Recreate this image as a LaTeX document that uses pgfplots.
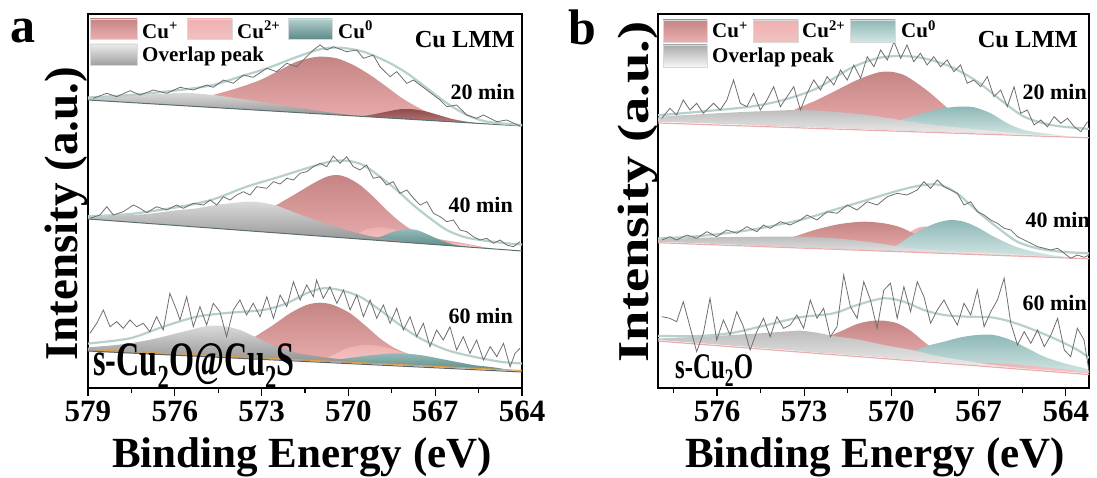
\documentclass[border=0pt]{standalone}
\usepackage{pgfplots}
\pgfplotsset{compat=1.18}
\usepackage{fontspec}
\setmainfont{Liberation Serif}
\newcommand{\fs}[1]{\fontsize{#1}{#1}\selectfont\bfseries}
\definecolor{cupT}{HTML}{C58585}
\definecolor{cupB}{HTML}{EBAEAE}
\definecolor{cutT}{HTML}{EFB1B1}
\definecolor{cutB}{HTML}{F6C9C9}
\definecolor{tealaT}{HTML}{93BAB8}
\definecolor{tealaB}{HTML}{5E8B89}
\definecolor{tealbT}{HTML}{8DB8B6}
\definecolor{tealbB}{HTML}{D3E6E4}
\definecolor{grayaT}{HTML}{DADADA}
\definecolor{grayaB}{HTML}{8F8F8F}
\definecolor{graybT}{HTML}{BDBDBD}
\definecolor{graybB}{HTML}{EDEDED}
\definecolor{darkT}{HTML}{8E4B4B}
\definecolor{darkB}{HTML}{B77C7C}
\definecolor{envc}{HTML}{B7D0CE}
\definecolor{rawc}{HTML}{6E6E6E}
\pgfplotsset{
  xps/.style={scale only axis, height=374pt, ymin=0, ymax=374, ytick=\empty, x dir=reverse,
    axis line style={line width=1.4pt}, tick align=outside, xtick pos=bottom,
    major tick length=8pt, minor tick length=5pt,
    every tick/.style={black, line width=1.2pt},
    xticklabel style={font=\fs{31}, inner sep=1pt, yshift=-4pt}},
  cup/.style={smooth, draw=none, top color=cupT, bottom color=cupB},
  cut/.style={smooth, draw=none, top color=cutT, bottom color=cutB},
  teala/.style={smooth, draw=none, top color=tealaT, bottom color=tealaB},
  tealb/.style={smooth, draw=none, top color=tealbT, bottom color=tealbB},
  graya/.style={smooth, draw=none, top color=grayaT, bottom color=grayaB},
  grayb/.style={smooth, draw=none, top color=graybT, bottom color=graybB},
  darkp/.style={smooth, draw=none, top color=darkT, bottom color=darkB},
  env/.style={smooth, envc, line width=2.2pt},
  raw/.style={rawc, line width=0.8pt},
}
\begin{document}
\begin{tikzpicture}[x=1pt,y=1pt]
\path[use as bounding box] (0,0) rectangle (1097,477);
% ---------------- panel a ----------------
\begin{axis}[xps, at={(88pt,89pt)}, anchor=south west, width=434pt,
  xmin=564, xmax=579, xtick={564,567,570,573,576,579},
  xticklabels={564,567,570,573,576,579},
  minor xtick={565.5,568.5,571.5,574.5,577.5}]
% 20 min
\addplot[cup] coordinates {(577,284.5) (576,285.5) (575.3,287.5) (574.67,293) (573.86,299.7) (573.05,308) (572.36,318) (571.79,326.3) (571.21,330.7) (570.87,331.3) (570.40,329.7) (569.83,323) (569.25,313) (568.68,301.3) (568.22,291.3) (567.75,283) (567.29,276.3) (566.83,271.3) (566.37,267.3) (565.68,265.2) (565,263.7)};
\addplot[darkp] coordinates {(569.6,271.7) (569.25,273) (568.68,276.3) (568.22,278.7) (567.75,278.7) (567.29,276.3) (566.83,272.5) (566.37,268.8) (565.9,266.3) (565.5,264.6)};
\addplot[graya] coordinates {(579.5,288.9) (579,290.5) (578,292) (576.96,293.5) (575.9,295) (575.47,295) (574.68,293) (573.8,289.5) (572.95,286) (572.1,282) (571.22,278) (570.5,275) (569.8,272.5) (569,270.7)};
\addplot[color={rgb,255:red,90;green,112;blue,112}, line width=1pt] coordinates {(579,288) (564,262)};
\addplot[env] coordinates {(579,290.5) (577.55,293) (575.82,298) (574.68,303) (573.75,311.3) (572.81,319.7) (571.91,329.7) (570.98,338.7) (570.29,340.3) (569.49,336.3) (568.66,326.3) (567.97,314.7) (567.28,299.7) (566.59,284.7) (565.90,273) (565.21,266.3) (564.07,263) (564,262.8)};
\addplot[raw] coordinates {(578.82,289.7) (578.35,294.7) (578.01,291.3) (577.55,297.3) (577.20,293) (576.74,298) (576.28,294.7) (575.82,300.7) (575.36,298) (574.90,303) (574.67,300.7) (574.32,308) (573.98,304.7) (573.63,313) (573.29,310.7) (572.82,319.7) (572.48,316.3) (572.13,324.7) (571.79,321.3) (571.44,331.3) (571.21,338) (570.98,343) (570.75,338) (570.52,341.3) (570.06,336.3) (569.71,338) (569.48,329.7) (569.14,333) (568.91,321.3) (568.56,311.3) (568.33,316.3) (567.98,304.7) (567.75,308) (567.29,298) (566.83,288) (566.60,281.3) (566.26,283) (565.91,273) (565.57,269.7) (565.33,273) (564.87,266.3) (564.53,268) (564.07,262)};
% 40 min
\addplot[cup] coordinates {(575.5,161.5) (574.5,162.8) (573.5,168) (573,174) (572.48,183) (571.79,194.7) (571.21,204.7) (570.75,211.3) (570.40,213) (570.06,210.7) (569.60,203) (569.14,191.3) (568.68,178) (568.22,166.3) (567.76,157.3) (567.29,152) (566.83,148.7) (566.26,146) (565.6,142.5) (565,139.1)};
\addplot[cut] coordinates {(570.5,150.9) (569.83,152.3) (569.37,158.7) (568.91,160.7) (568.45,158.7) (567.98,153.5) (567.52,149.5) (567,146.5) (566.4,144.5) (565.8,143) (565.2,139.6)};
\addplot[teala] coordinates {(569.6,148.9) (568.91,151.3) (568.45,156.3) (567.98,158.7) (567.64,158) (567.29,154) (566.83,148) (566.37,143.5) (565.9,141.1)};
\addplot[graya] coordinates {(579.5,170.1) (578.93,171) (577.9,172.5) (576.97,174) (576,177.5) (575.24,179.7) (574.6,183) (574.09,184.7) (573.51,186.3) (573.05,185.7) (572.48,182.3) (571.79,174.7) (570.98,166.3) (570.06,158) (569.25,152) (568.33,148) (567.5,145) (566.8,143)};
\addplot[color={rgb,255:red,90;green,112;blue,112}, line width=1pt] coordinates {(579,169) (564,137)};
\addplot[env] coordinates {(579,171.8) (577.55,174) (575.82,181.3) (574.67,188.7) (573.52,201.3) (572.37,211.3) (571.45,219.7) (570.64,226.3) (570.06,227.3) (569.49,223) (568.91,211.3) (568.33,198) (567.76,183) (567.18,169.7) (566.60,158) (566.03,151.3) (565.45,148) (564.53,144.7) (564,143.5)};
\addplot[raw] coordinates {(578.93,169.7) (578.59,173) (578.35,181.3) (578.12,173) (577.78,176.3) (577.43,183) (577.20,179.7) (576.97,175.3) (576.63,181.3) (576.28,178) (575.94,183) (575.70,179.7) (575.36,184.7) (575.01,183) (574.78,188) (574.55,183) (574.32,191.3) (574.09,188) (573.86,193) (573.63,196.3) (573.40,193) (573.17,201.3) (572.82,199.7) (572.59,206.3) (572.36,204) (572.13,209.7) (571.90,208) (571.67,214.7) (571.44,216.3) (571.21,221.3) (570.98,224.7) (570.75,221.3) (570.52,232) (570.29,224.7) (570.06,231.3) (569.83,221.3) (569.60,218) (569.37,223) (569.14,209.7) (568.91,211.3) (568.68,203) (568.45,206.3) (568.22,194.7) (567.98,198) (567.75,189.7) (567.52,183) (567.29,186.3) (567.06,174.7) (566.83,171.3) (566.60,166.3) (566.37,168) (566.14,158) (565.91,156.3) (565.68,151.3) (565.45,148) (565.22,149.7) (564.99,144.7) (564.76,148) (564.53,143) (564.30,141.3) (564.07,146.3)};
% 60 min
\addplot[cup] coordinates {(574.5,31.7) (573.9,36) (573.29,50) (572.60,63) (572.02,74.7) (571.45,83) (570.98,85.3) (570.52,83) (569.94,74.7) (569.37,61.3) (568.91,49.7) (568.45,40.7) (567.98,34.7) (567.52,31.3) (567,26.5) (566.5,22.5) (566,19.8)};
\addplot[cut] coordinates {(571,26.8) (570.52,33) (570.06,39.7) (569.49,43) (568.91,42) (568.33,37.3) (567.76,32) (567.2,26) (566.6,20.6)};
\addplot[teala] coordinates {(570.8,26.5) (570.06,29.7) (569.14,33) (568.33,34.7) (567.52,33) (566.60,28) (565.68,23) (564.99,20.7) (564.3,17.4)};
\addplot[graya] coordinates {(579.5,37.3) (578.93,40.7) (578.2,42.5) (577.55,44.7) (576.9,48) (576.40,51.3) (575.9,55) (575.47,58) (574.90,62) (574.32,62) (573.75,58) (573.29,52) (572.60,43) (571.79,35.3) (570.98,31.3) (570.2,28.5) (569.4,25.3) (568.8,23.7)};
\addplot[color={rgb,255:red,225;green,160;blue,70}, line width=1pt] coordinates {(579,38.5) (564,17.5)};
\addplot[color={rgb,255:red,90;green,100;blue,100}, line width=1pt] coordinates {(579,37) (564,16)};
\addplot[env] coordinates {(579,44.5) (577.55,49.7) (576.40,61.3) (575.24,71.3) (574.09,75.3) (572.94,78) (572.13,84.7) (571.45,94.7) (570.87,99.7) (570.29,98) (569.60,91.3) (568.91,78) (568.22,63) (567.52,49.7) (566.60,38) (565.68,31.3) (564.76,26.3) (564.41,25.3) (564,24.5)};
\addplot[raw] coordinates {(578.93,54.7) (578.70,64.7) (578.47,78) (578.24,61.3) (578.01,66.3) (577.78,59.7) (577.55,68) (577.32,61.3) (577.09,64.7) (576.86,56.3) (576.63,71.3) (576.40,58) (576.17,94.7) (575.94,78) (575.82,68) (575.59,91.3) (575.36,61.3) (575.13,81.3) (574.90,63) (574.67,84.7) (574.44,76.3) (574.21,51.3) (573.98,78) (573.75,88) (573.52,73) (573.29,84.7) (573.05,71.3) (572.82,91.3) (572.59,69.7) (572.36,93) (572.13,81.3) (571.90,106.3) (571.67,88) (571.44,103) (571.21,91.3) (571.10,108) (570.87,89.7) (570.64,101.3) (570.40,84.7) (570.17,98) (569.94,78) (569.71,93) (569.48,71.3) (569.25,88) (569.02,69.7) (568.79,83) (568.56,64.7) (568.33,79.7) (568.10,58) (567.87,71.3) (567.64,51.3) (567.41,64.7) (567.18,41.3) (566.95,58) (566.72,48) (566.49,61.3) (566.26,38) (566.03,51.3) (565.80,34.7) (565.57,48) (565.33,28) (565.10,41.3) (564.87,31.3) (564.64,44.7) (564.41,21.3) (564.24,34.7) (564.07,39.7)};
\end{axis}
% ---------------- panel b ----------------
\begin{axis}[xps, at={(658pt,89pt)}, anchor=south west, width=431pt,
  xmin=563.2, xmax=578.03, xtick={564,567,570,573,576},
  xticklabels={564,567,570,573,576},
  minor xtick={565.5,568.5,571.5,574.5,577.5}]
% 20 min
\addplot[cup] coordinates {(575,263.2) (574.3,264.5) (573.8,270) (573.36,278) (572.56,288) (571.87,298) (571.18,308) (570.49,315.3) (570.03,316.3) (569.57,313) (569.11,304.7) (568.65,294.7) (568.19,283) (567.7,271) (567.2,263) (566.6,257.5) (566,254.1)};
\addplot[tealb] coordinates {(570.8,259) (569.92,266.3) (569.11,273) (568.42,278.7) (567.73,281.3) (567.16,280.7) (566.58,274.7) (566.01,264.7) (565.43,258) (564.74,254.7) (564,252.1)};
\addplot[grayb] coordinates {(578.5,266.8) (577.9,271.3) (577,273) (576.01,274.7) (575.1,276) (574.28,277) (573.13,278) (571.98,276.3) (570.83,273) (569.69,268) (568.54,263) (567.39,259.7) (566.3,256.5) (565.3,253.4)};
\addplot[color=cupB, line width=1.2pt] coordinates {(578.5,265.5) (563,250)};
\addplot[env] coordinates {(578.03,272.8) (577.90,273) (576.59,276.3) (574.87,281.3) (573.72,288) (572.56,299.7) (571.41,319.7) (570.49,329.7) (569.69,332) (568.88,329.7) (567.96,321.3) (567.04,306.3) (566.24,288) (565.43,271.3) (564.51,263) (563.48,259.7) (563.2,259.3)};
\addplot[raw] coordinates {(577.90,269.7) (577.62,279.7) (577.39,273) (577.16,288) (576.93,278) (576.70,284.7) (576.47,274.7) (576.12,284.7) (575.89,278) (575.66,288) (575.43,308) (575.20,284.7) (574.97,281.3) (574.74,294.7) (574.51,278) (574.28,288) (574.05,301.3) (573.82,281.3) (573.59,291.3) (573.36,301.3) (573.13,278) (572.90,294.7) (572.67,308) (572.44,298) (572.21,311.3) (571.98,303) (571.75,318) (571.52,308) (571.29,323) (571.06,309.7) (570.83,331.3) (570.60,321.3) (570.37,338) (570.14,328) (569.91,346.3) (569.68,329.7) (569.46,343) (569.23,326.3) (569.00,334.7) (568.77,323) (568.54,331.3) (568.31,321.3) (568.08,328) (567.85,316.3) (567.62,323) (567.39,304.7) (567.16,308) (566.93,301.3) (566.70,311.3) (566.47,291.3) (566.24,298) (566.01,281.3) (565.78,301.3) (565.55,274.7) (565.32,278) (565.09,263) (564.86,268) (564.63,261.3) (564.40,271.3) (564.17,264.7) (563.94,269.7) (563.71,261.3) (563.48,256.3) (563.25,266.3)};
% 40 min
\addplot[cut] coordinates {(570.5,137.9) (570,141.5) (569.6,150) (569.3,157) (569.0,161) (568.7,161) (568.3,155) (567.8,145) (567.2,137) (566.6,133.5)};
\addplot[cup] coordinates {(575,142.9) (574.2,144.5) (573.36,151.3) (572.56,158.7) (571.76,164) (570.95,166.3) (570.26,164.7) (569.69,160.7) (569.2,154) (568.6,146) (568,140) (567.3,136) (566.6,133.5)};
\addplot[tealb] coordinates {(570.3,137.6) (569.8,143) (569.34,152) (568.88,159.7) (568.42,165.3) (567.96,168) (567.50,166.3) (567.04,160.7) (566.58,153) (566.12,146.3) (565.66,140.7) (565.09,136.3) (564.51,133) (563.8,130.4)};
\addplot[grayb] coordinates {(578.5,146.8) (577.9,148.7) (576.01,150.7) (574.28,151.3) (573.13,151.3) (571.98,149.7) (570.83,146.3) (569.69,141.3) (568.54,138) (567.39,136) (566.5,135) (565.66,133.5) (564.8,131.5)};
\addplot[color=cupB, line width=1.2pt] coordinates {(578.5,145.8) (563,129)};
\addplot[env] coordinates {(578.03,149.6) (577.90,149.7) (576.59,152) (574.87,158) (573.14,168) (571.99,178) (570.84,188) (569.69,198) (568.89,203) (568.31,203) (567.74,194.7) (567.28,183) (566.82,171.3) (566.24,158) (565.67,146.3) (564.98,139.7) (564.17,136.3) (563.25,134.7) (563.2,134.6)};
\addplot[raw] coordinates {(577.90,148) (577.62,151.3) (577.39,148) (577.04,153) (576.70,149.7) (576.35,156.3) (576.01,151.3) (575.66,158) (575.32,154.7) (574.97,161.3) (574.63,156.3) (574.40,163) (574.17,159.7) (573.82,166.3) (573.48,163) (573.13,168) (572.90,173) (572.56,168) (572.21,176.3) (571.87,174.7) (571.52,183) (571.18,178) (570.83,186.3) (570.49,183) (570.14,191.3) (569.80,194.7) (569.46,193) (569.11,198) (568.88,206.3) (568.65,199.7) (568.42,208) (568.19,201.3) (567.96,198) (567.73,194.7) (567.50,183) (567.27,186.3) (567.04,176.3) (566.81,173) (566.58,168) (566.35,164.7) (566.12,159.7) (565.89,158) (565.66,151.3) (565.43,148) (565.20,144.7) (564.97,141.3) (564.74,139.7) (564.51,138) (564.28,139.7) (564.05,134.7) (563.83,129.7) (563.60,133) (563.37,130.7) (563.19,133)};
% 60 min
\addplot[cup] coordinates {(573.3,37.4) (572.6,42) (572.10,52) (571.64,58) (571.18,64) (570.72,67) (570.26,67.3) (569.80,64.7) (569.34,57.3) (568.88,46.3) (568.4,36) (567.9,28) (567.3,24.4)};
\addplot[tealb] coordinates {(570.3,30.6) (569.5,34) (568.77,42) (568.19,46.3) (567.61,50.7) (567.04,53) (566.47,53) (565.89,48) (565.32,39.7) (564.74,31.3) (564.05,24.7) (563.36,19.7) (562.8,13.8)};
\addplot[cut] coordinates {(567.5,24.3) (567,25.5) (566,24) (565,21.5) (564,18.5) (563.2,16) (562.8,13.8)};
\addplot[grayb] coordinates {(578.5,49.1) (577.9,49.7) (576.59,51.3) (574.87,54) (573.72,56.3) (573.14,57.3) (572.56,55.3) (571.99,52) (571.18,48.7) (570.26,43) (569.3,38) (568.4,32) (567.4,27) (566.5,23) (565.5,19.8)};
\addplot[color=cupB, line width=1.2pt] coordinates {(578.5,48) (563,13)};
\addplot[env] coordinates {(578.03,52) (577.90,52) (576.59,52) (575.44,55.3) (574.29,63) (573.14,70.7) (571.99,74.7) (571.18,83) (570.26,89.7) (569.57,86.3) (568.88,78) (568.19,73) (567.39,71.3) (566.58,70.7) (565.89,66.3) (565.09,58) (564.28,48) (563.59,38) (563.25,31.3) (563.2,30.5)};
\addplot[raw] coordinates {(577.90,71.3) (577.62,69.7) (577.39,66.3) (577.16,86.3) (576.93,61.3) (576.70,36.3) (576.47,54.7) (576.24,89.7) (576.01,48) (575.78,68) (575.55,53) (575.32,76.3) (575.09,61.3) (574.86,38) (574.63,56.3) (574.40,69.7) (574.17,51.3) (573.94,71.3) (573.71,59.7) (573.48,63) (573.25,73) (573.02,59.7) (572.79,88) (572.56,69.7) (572.33,79.7) (572.10,51.3) (571.87,61.3) (571.64,113) (571.41,81.3) (571.18,69.7) (570.95,106.3) (570.72,88) (570.49,59.7) (570.26,98) (570.03,104.7) (569.80,69.7) (569.57,101.3) (569.34,76.3) (569.11,106.3) (568.88,91.3) (568.65,64.7) (568.42,78) (568.19,88) (567.96,74.7) (567.73,63) (567.50,84.7) (567.27,73) (567.04,98) (566.81,61.3) (566.58,76.3) (566.35,88) (566.12,109.7) (565.89,64.7) (565.66,43) (565.43,56.3) (565.20,44.7) (564.97,58) (564.74,41.3) (564.51,53) (564.28,69.7) (564.05,38) (563.83,31.3) (563.60,59.7) (563.37,48) (563.19,14.7)};
\end{axis}
% ---------------- legends & labels ----------------
% panel a legend
\shade[top color=cupT, bottom color=cupB, draw=gray!30] (90,458) rectangle (137,438);
\shade[top color=cutT, bottom color=cutT!80!white, draw=gray!30] (187,458) rectangle (232,438);
\shade[top color=tealaT!70!white, bottom color=tealaB, draw=gray!30] (288,458) rectangle (332,438);
\shade[top color=gray!15, bottom color=gray!75, draw=gray!30] (90,433) rectangle (137,412);
\node[anchor=base west, inner sep=0] at (142,438.5) {\fs{21}Cu\textsuperscript{+}};
\node[anchor=base west, inner sep=0] at (237,438.5) {\fs{21}Cu\textsuperscript{2+}};
\node[anchor=base west, inner sep=0] at (338,438.5) {\fs{21}Cu\textsuperscript{0}};
\node[anchor=base west, inner sep=0] at (142,415) {\fs{21}Overlap peak};
\node[anchor=base east, inner sep=0] at (515,429) {\fs{24.5}Cu LMM};
\node[anchor=base east, inner sep=0] at (515,377) {\fs{22}20 min};
\node[anchor=base east, inner sep=0] at (513,264) {\fs{22}40 min};
\node[anchor=base east, inner sep=0] at (513,154) {\fs{22}60 min};
\node[anchor=base west, inner sep=0] at (93,102) {\scalebox{0.67}[1]{\fs{48}s-Cu\textsubscript{2}O@Cu\textsubscript{2}S}};
% panel b legend
\shade[top color=cupT, bottom color=cupB, draw=gray!30] (663,457) rectangle (707,435);
\shade[top color=cutT, bottom color=cutT!80!white, draw=gray!30] (753,457) rectangle (798,435);
\shade[top color=tealbT, bottom color=tealbB, draw=gray!30] (850,457) rectangle (895,435);
\shade[top color=graybT!90!black, bottom color=graybB!50!white, draw=gray!30] (663,432) rectangle (707,410);
\node[anchor=base west, inner sep=0] at (712,439) {\fs{21}Cu\textsuperscript{+}};
\node[anchor=base west, inner sep=0] at (802,439) {\fs{21}Cu\textsuperscript{2+}};
\node[anchor=base west, inner sep=0] at (901,439) {\fs{21}Cu\textsuperscript{0}};
\node[anchor=base west, inner sep=0] at (712,414) {\fs{21}Overlap peak};
\node[anchor=base east, inner sep=0] at (1078,429) {\fs{24.5}Cu LMM};
\node[anchor=base east, inner sep=0] at (1087,377) {\fs{22}20 min};
\node[anchor=base east, inner sep=0] at (1090,249) {\fs{22}40 min};
\node[anchor=base east, inner sep=0] at (1087,167) {\fs{22}60 min};
\node[anchor=base west, inner sep=0] at (675,99) {\scalebox{0.69}[1]{\fs{36}s-Cu\textsubscript{2}O}};
% panel letters and axis titles
\node[anchor=base west, inner sep=0] at (10,434) {\fs{50}a};
\node[anchor=base west, inner sep=0] at (568,432) {\fs{50}b};
\node[rotate=90, anchor=base, inner sep=0] at (77,263) {\fs{47}Intensity (a.u.)};
\node[rotate=90, anchor=base, inner sep=0] at (648,285) {\scalebox{1.24}[1]{\fs{44}Intensity (a.u.)}};
\node[anchor=base, inner sep=0] at (302,10) {\fs{43}Binding Energy (eV)};
\node[anchor=base, inner sep=0] at (875,10) {\fs{43}Binding Energy (eV)};
\end{tikzpicture}
\end{document}
